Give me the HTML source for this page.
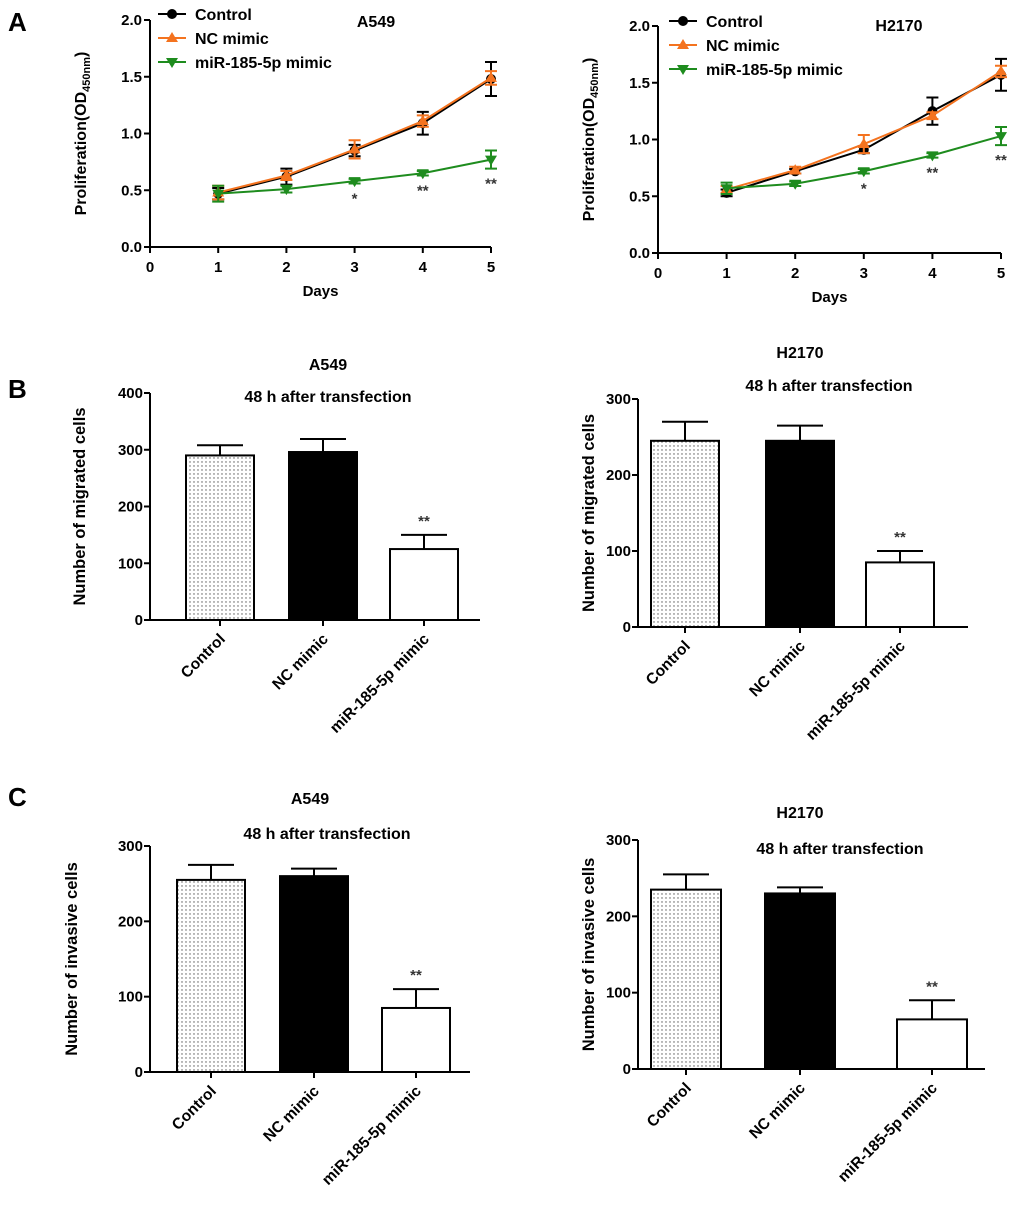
<!DOCTYPE html>
<html><head><meta charset="utf-8"><style>
body{margin:0;background:#fff}
svg{display:block;font-family:"Liberation Sans",Arial,sans-serif;font-weight:bold}
</style></head><body>
<svg id="fig" width="1020" height="1206" viewBox="0 0 1020 1206">
<defs><pattern id="dots" width="4" height="4" patternUnits="userSpaceOnUse"><rect width="4" height="4" fill="#fff"/><circle cx="2" cy="2" r="0.7" fill="#555"/></pattern></defs>
<text x="8" y="31" font-size="26">A</text>
<text x="8" y="398" font-size="26">B</text>
<text x="8" y="806" font-size="26">C</text>
</svg>
<script>
const days=[0,1,2,3,4,5];
const seriesNames=["Control","NC mimic","miR-185-5p mimic"];
const a549Control=[0.47,0.62,0.85,1.09,1.48];
const a549NC=[0.48,0.63,0.86,1.11,1.49];
const a549Mir=[0.47,0.51,0.58,0.65,0.77];
const a549ControlErr=[0.05,0.07,0.05,0.1,0.15];
const a549NCErr=[0.06,0.04,0.08,0.05,0.06];
const a549MirErr=[0.07,0.03,0.02,0.02,0.08];
const a549Stars=["","","*","**","**"];
const h2170Control=[0.53,0.72,0.91,1.25,1.57];
const h2170NC=[0.56,0.73,0.96,1.21,1.60];
const h2170Mir=[0.57,0.61,0.72,0.86,1.03];
const h2170ControlErr=[0.03,0.02,0.03,0.12,0.14];
const h2170NCErr=[0.03,0.03,0.08,0.03,0.05];
const h2170MirErr=[0.05,0.02,0.02,0.02,0.08];
const h2170Stars=["","","*","**","**"];
const lineTicks=[0,0.5,1.0,1.5,2.0];
const groups=["Control","NC mimic","miR-185-5p mimic"];
const migA549=[290,296,125];const migA549Err=[18,23,25];
const migH2170=[245,245,85];const migH2170Err=[25,20,15];
const invA549=[255,260,85];const invA549Err=[20,10,25];
const invH2170=[235,230,65];const invH2170Err=[20,8,25];
const ticks400=[0,100,200,300,400];const ticks300=[0,100,200,300];

const NS="http://www.w3.org/2000/svg";const svg=document.getElementById('fig');
function mk(tag,attrs,parent,txt){const e=document.createElementNS(NS,tag);for(const k in attrs)e.setAttribute(k,attrs[k]);if(txt!==undefined)e.textContent=txt;(parent||svg).appendChild(e);return e;}

function lineChart(o){
 const g=mk('g',{});
 
 
 const X=d=>o.x0+(o.x5-o.x0)*d/5, Y=v=>o.y0-(o.y0-o.y2)*v/2;
 const ax=mk('path',{d:`M${o.x0},${o.y2}V${o.y0}H${X(5)}`,stroke:'#000','stroke-width':2,fill:'none'},g);
 
 lineTicks.forEach(t=>{mk('line',{x1:o.x0-6,x2:o.x0,y1:Y(t),y2:Y(t),stroke:'#000','stroke-width':2},g);
  const l=mk('text',{x:o.x0-8,y:Y(t)+5,'text-anchor':'end','font-size':15},g,t.toFixed(1));
  });
 days.forEach(d=>{mk('line',{x1:X(d),x2:X(d),y1:o.y0,y2:o.y0+6,stroke:'#000','stroke-width':2},g);
  const l=mk('text',{x:X(d),y:o.y0+25,'text-anchor':'middle','font-size':15},g,String(d));
  });
 const xt=mk('text',{x:(o.x0+X(5))/2,y:o.y0+49,'text-anchor':'middle','font-size':15},g,'Days');
 
 const yt=mk('text',{transform:`translate(${o.ylx},${(o.y0+o.y2)/2}) rotate(-90)`,'text-anchor':'middle','font-size':16},g);
 
 yt.innerHTML='Proliferation(OD<tspan font-size="11" dy="4">450nm</tspan><tspan dy="-4">)</tspan>';
 const tt=mk('text',{x:o.tx,y:o.ty,'text-anchor':'middle','font-size':16},g,o.title);
 
 const cols=['#000','#f4731f','#1e8c1e'];
 o.series.forEach((s,i)=>{
  const sg=mk('g',{},g);
  s.forEach((v,k)=>{const e=o.errs[i][k];const x=X(k+1);
   mk('path',{d:`M${x},${Y(v-e)}V${Y(v+e)}M${x-6},${Y(v+e)}H${x+6}M${x-6},${Y(v-e)}H${x+6}`,stroke:cols[i],'stroke-width':2},sg);});
  mk('polyline',{points:s.map((v,k)=>X(k+1)+','+Y(v)).join(' '),fill:'none',stroke:cols[i],'stroke-width':2},sg);
  s.forEach((v,k)=>{const x=X(k+1),y=Y(v);
   const m=i==0?mk('circle',{cx:x,cy:y,r:5,fill:cols[i]},sg):i==1?mk('path',{d:`M${x},${y-6}L${x+6},${y+4}L${x-6},${y+4}Z`,fill:cols[i]},sg):mk('path',{d:`M${x},${y+6}L${x+6},${y-4}L${x-6},${y-4}Z`,fill:cols[i]},sg);
   });
 });
 o.stars.forEach((st,k)=>{if(!st)return;const v=o.series[2][k]-o.errs[2][k];
  const t=mk('text',{x:X(k+1),y:Y(v)+20,'text-anchor':'middle','font-size':15,fill:'#333'},g,st);
  });
 seriesNames.forEach((n,i)=>{const y=o.ly+i*o.lgap;const lg=mk('g',{},g);
  
  mk('line',{x1:o.lx-14,x2:o.lx+14,y1:y,y2:y,stroke:cols[i],'stroke-width':2},lg);
  if(i==0)mk('circle',{cx:o.lx,cy:y,r:5,fill:cols[i]},lg);
  else if(i==1)mk('path',{d:`M${o.lx},${y-6}L${o.lx+6},${y+4}L${o.lx-6},${y+4}Z`,fill:cols[i]},lg);
  else mk('path',{d:`M${o.lx},${y+6}L${o.lx+6},${y-4}L${o.lx-6},${y-4}Z`,fill:cols[i]},lg);
  mk('text',{x:o.lx+23,y:y+6,'font-size':16},lg,n);});
}

function barChart(o){
 const g=mk('g',{});
 
 
 const Y=v=>o.y0-(o.y0-o.ytop)*v/o.max;
 const ax=mk('path',{d:`M${o.x0},${o.ytop}V${o.y0}H${o.xend}`,stroke:'#000','stroke-width':2,fill:'none'},g);
 
 o.ticks.forEach(t=>{mk('line',{x1:o.x0-6,x2:o.x0,y1:Y(t),y2:Y(t),stroke:'#000','stroke-width':2},g);
  const l=mk('text',{x:o.x0-7,y:Y(t)+5,'text-anchor':'end','font-size':15},g,String(t));
  });
 const fills=['url(#dots)','#000','#fff'];
 o.vals.forEach((v,i)=>{const c=o.cx[i],w=o.bw;
  const e=o.errs[i];
  mk('path',{d:`M${c},${Y(v)}V${Y(v+e)}M${c-23},${Y(v+e)}H${c+23}`,stroke:'#000','stroke-width':2},g);
  const b=mk('rect',{x:c-w/2,y:Y(v),width:w,height:o.y0-Y(v),fill:fills[i],stroke:'#000','stroke-width':2},g);
  
  mk('line',{x1:c,x2:c,y1:o.y0,y2:o.y0+6,stroke:'#000','stroke-width':2},g);
  const l=mk('text',{transform:`translate(${c+6},${o.y0+20}) rotate(-45)`,'text-anchor':'end','font-size':15.5},g,groups[i]);
  
  if(i==2){const s=mk('text',{x:c,y:Y(v+e)-9,'text-anchor':'middle','font-size':15,fill:'#333'},g,'**');
   }
 });
 const yt=mk('text',{transform:`translate(${o.ylx},${(o.y0+o.ytop)/2}) rotate(-90)`,'text-anchor':'middle','font-size':16.5},g,o.ylabel);
 
 const tt=mk('text',{x:o.tx,y:o.ty,'text-anchor':'middle','font-size':16},g,o.title);
 
 const st=mk('text',{x:o.sx,y:o.sy,'text-anchor':'middle','font-size':16},g,'48 h after transfection');
 
}

lineChart({name:'a549-proliferation-chart',x0:150,x5:491,y0:247,y2:20,ylx:86,tx:376,ty:27,title:'A549',
 series:[a549Control,a549NC,a549Mir],errs:[a549ControlErr,a549NCErr,a549MirErr],stars:a549Stars,lx:172,ly:14,lgap:24});
lineChart({name:'h2170-proliferation-chart',x0:658,x5:1001,y0:253,y2:26,ylx:594,tx:899,ty:31,title:'H2170',
 series:[h2170Control,h2170NC,h2170Mir],errs:[h2170ControlErr,h2170NCErr,h2170MirErr],stars:h2170Stars,lx:683,ly:21,lgap:24});
barChart({name:'a549-migration-chart',x0:150,xend:480,y0:620,ytop:393,max:400,ticks:ticks400,cx:[220,323,424],bw:68,
 vals:migA549,errs:migA549Err,ylx:85,tx:328,ty:370,sx:328,sy:402,title:'A549',ylabel:'Number of migrated cells'});
barChart({name:'h2170-migration-chart',x0:638,xend:968,y0:627,ytop:399,max:300,ticks:ticks300,cx:[685,800,900],bw:68,
 vals:migH2170,errs:migH2170Err,ylx:594,tx:800,ty:358,sx:829,sy:391,title:'H2170',ylabel:'Number of migrated cells'});
barChart({name:'a549-invasion-chart',x0:150,xend:470,y0:1072,ytop:846,max:300,ticks:ticks300,cx:[211,314,416],bw:68,
 vals:invA549,errs:invA549Err,ylx:77,tx:310,ty:804,sx:327,sy:839,title:'A549',ylabel:'Number of invasive cells'});
barChart({name:'h2170-invasion-chart',x0:638,xend:985,y0:1069,ytop:840,max:300,ticks:ticks300,cx:[686,800,932],bw:70,
 vals:invH2170,errs:invH2170Err,ylx:594,tx:800,ty:818,sx:840,sy:854,title:'H2170',ylabel:'Number of invasive cells'});
</script>
</body></html>
